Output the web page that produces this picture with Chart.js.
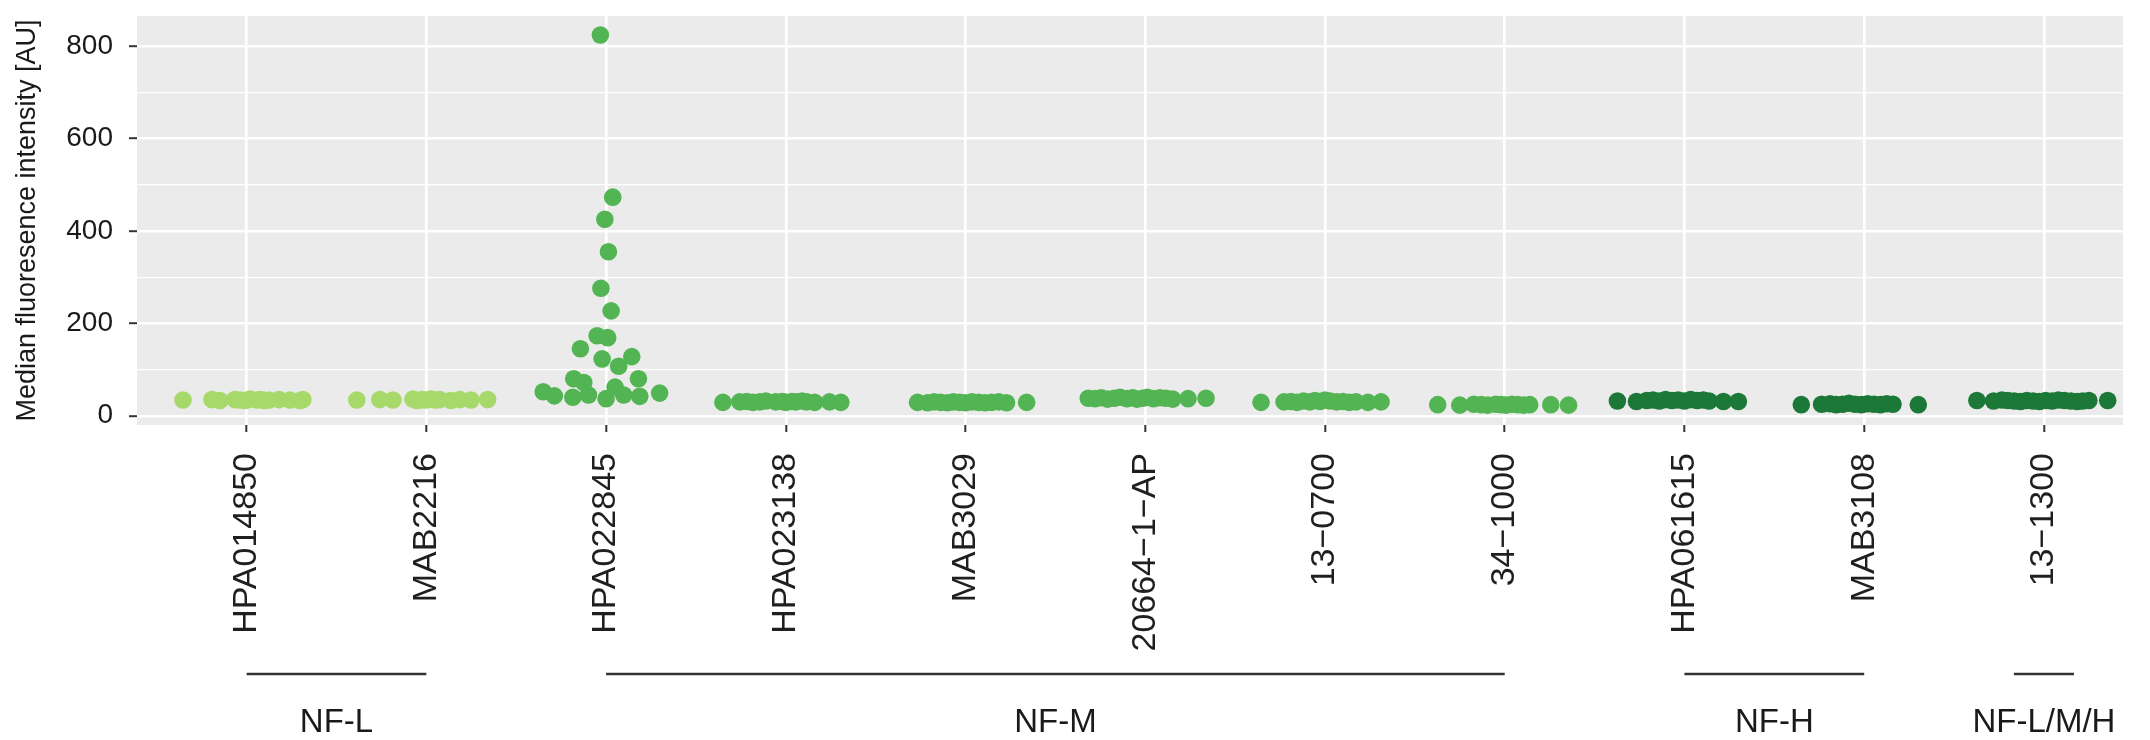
<!DOCTYPE html>
<html>
<head>
<meta charset="utf-8">
<script src="https://cdn.jsdelivr.net/npm/chart.js@4.4.1/dist/chart.umd.min.js"></script>
<style>
  html, body { margin: 0; padding: 0; background: #fff; }
  canvas { display: block; }
</style>
</head>
<body>
<canvas id="chart" width="2150" height="740"></canvas>
<script>
// Antibodies on the x axis, in plotting order
const categories = ['HPA014850', 'MAB2216', 'HPA022845', 'HPA023138', 'MAB3029',
  '20664\u22121\u2212AP', '13\u22120700', '34\u22121000', 'HPA061615', 'MAB3108', '13\u22121300'];

// Target protein of each antibody -> colour shade
const shadeOf = ['L', 'L', 'M', 'M', 'M', 'M', 'M', 'M', 'H', 'H', 'H'];
const SHADE_COLOR = { L: '#A6D96A', M: '#53B453', H: '#1B7837' };

// Median fluorescence intensity per sample, and the horizontal jitter (category units)
const mfiHPA014850 = [34, 35, 33, 35, 34, 33, 36, 34, 35, 33, 34, 35, 34, 33, 35];
const jitHPA014850 = [-0.354, -0.193, -0.149, -0.065, -0.037, -0.009, 0.018, 0.057, 0.08, 0.1, 0.124, 0.18, 0.241, 0.297, 0.313];

const mfiMAB2216 = [34, 35, 34, 36, 33, 35, 34, 36, 34, 35, 33, 35, 34, 35];
const jitMAB2216 = [-0.387, -0.259, -0.186, -0.075, -0.053, -0.025, -0.003, 0.025, 0.05, 0.075, 0.136, 0.186, 0.248, 0.341];

const mfiHPA022845 = [824, 473, 425, 355, 276, 227, 173, 169, 145, 123, 128, 107, 80, 72, 80, 62, 52, 43, 40, 45, 37, 45, 42, 49];
const jitHPA022845 = [-0.032, 0.037, -0.007, 0.013, -0.029, 0.028, -0.05, 0.009, -0.143, -0.022, 0.143, 0.07, -0.18, -0.124, 0.18, 0.05, -0.35, -0.288, -0.185, -0.098, 0, 0.098, 0.187, 0.298];

const mfiHPA023138 = [29, 30, 31, 29, 30, 32, 30, 31, 29, 31, 30, 32, 30, 29, 30, 29];
const jitHPA023138 = [-0.35, -0.256, -0.217, -0.184, -0.145, -0.111, -0.056, -0.02, 0, 0.033, 0.056, 0.09, 0.115, 0.161, 0.243, 0.306];

const mfiMAB3029 = [29, 28, 30, 29, 28, 30, 29, 28, 30, 29, 28, 29, 30, 28, 29];
const jitMAB3029 = [-0.267, -0.211, -0.175, -0.139, -0.1, -0.067, -0.033, 0, 0.036, 0.072, 0.108, 0.145, 0.185, 0.228, 0.34];

const mfi20664 = [38, 37, 39, 36, 38, 40, 37, 39, 36, 38, 40, 37, 39, 38, 36, 37, 38];
const jit20664 = [-0.317, -0.28, -0.245, -0.21, -0.173, -0.14, -0.102, -0.07, -0.046, -0.015, 0.011, 0.045, 0.082, 0.115, 0.153, 0.238, 0.338];

const mfi130700 = [29, 30, 31, 29, 32, 30, 33, 31, 34, 32, 30, 31, 29, 30, 29, 30];
const jit130700 = [-0.356, -0.228, -0.19, -0.156, -0.12, -0.084, -0.055, -0.028, 0, 0.028, 0.065, 0.1, 0.135, 0.173, 0.239, 0.312];

const mfi341000 = [24, 23, 25, 24, 23, 25, 24, 23, 25, 24, 23, 24, 24, 23];
const jit341000 = [-0.373, -0.25, -0.172, -0.13, -0.095, -0.05, -0.02, 0.006, 0.04, 0.072, 0.105, 0.139, 0.256, 0.355];

const mfiHPA061615 = [32, 31, 33, 34, 32, 35, 33, 34, 32, 35, 33, 34, 32, 31, 31];
const jitHPA061615 = [-0.373, -0.267, -0.21, -0.175, -0.14, -0.105, -0.07, -0.035, 0, 0.035, 0.07, 0.105, 0.137, 0.217, 0.3];

const mfiMAB3108 = [24, 25, 26, 24, 25, 27, 25, 24, 26, 25, 24, 26, 25, 24];
const jitMAB3108 = [-0.35, -0.237, -0.19, -0.156, -0.12, -0.085, -0.05, -0.015, 0.02, 0.055, 0.09, 0.125, 0.16, 0.301];

const mfi131300 = [33, 32, 34, 33, 32, 31, 33, 32, 31, 33, 32, 34, 33, 32, 31, 32, 33, 33];
const jit131300 = [-0.373, -0.28, -0.234, -0.2, -0.165, -0.13, -0.095, -0.06, -0.025, 0.01, 0.045, 0.08, 0.115, 0.15, 0.185, 0.215, 0.25, 0.355];

const mfiByCategory = [mfiHPA014850, mfiMAB2216, mfiHPA022845, mfiHPA023138, mfiMAB3029,
  mfi20664, mfi130700, mfi341000, mfiHPA061615, mfiMAB3108, mfi131300];
const jitterByCategory = [jitHPA014850, jitMAB2216, jitHPA022845, jitHPA023138, jitMAB3029,
  jit20664, jit130700, jit341000, jitHPA061615, jitMAB3108, jit131300];

// Y axis ticks
const yMajor = [0, 200, 400, 600, 800];
const yMinor = [100, 300, 500, 700];

// Protein groups drawn under the axis labels (from/to in category units)
const groupNames = ['NF-L', 'NF-M', 'NF-H', 'NF-L/M/H'];
const groupFrom = [0, 2, 8, 9.833];
const groupTo = [1, 7, 9, 10.167];

const FONT = 'Liberation Sans, Arial, Helvetica, sans-serif';

// ggplot-like grey panel behind everything
const panelBackground = {
  id: 'panelBackground',
  beforeDraw(chart) {
    const { ctx, chartArea: a } = chart;
    ctx.save();
    ctx.fillStyle = '#EBEBEB';
    ctx.fillRect(a.left, a.top, a.right - a.left, a.bottom - a.top);
    ctx.restore();
  }
};

// Bracket lines and protein names below the x labels
const groupLabels = {
  id: 'groupLabels',
  afterDraw(chart) {
    const { ctx, chartArea } = chart;
    const x = chart.scales.x;
    ctx.save();
    ctx.strokeStyle = '#333333';
    ctx.lineWidth = 2.4;
    ctx.fillStyle = '#1a1a1a';
    ctx.font = `33px ${FONT}`;
    ctx.textAlign = 'center';
    ctx.textBaseline = 'alphabetic';
    groupNames.forEach((name, g) => {
      const x1 = x.getPixelForValue(groupFrom[g]);
      const x2 = x.getPixelForValue(groupTo[g]);
      const lineY = chartArea.bottom + 249;
      ctx.beginPath();
      ctx.moveTo(x1, lineY);
      ctx.lineTo(x2, lineY);
      ctx.stroke();
      ctx.fillText(name, (x1 + x2) / 2, chartArea.bottom + 307);
    });
    ctx.restore();
  }
};

const datasets = categories.map((name, i) => ({
  label: name,
  data: mfiByCategory[i].map((v, k) => ({ x: i + jitterByCategory[i][k], y: v })),
  backgroundColor: SHADE_COLOR[shadeOf[i]],
  borderWidth: 0,
  pointRadius: 8.8,
  pointHoverRadius: 8.8,
}));

new Chart(document.getElementById('chart'), {
  type: 'scatter',
  data: { datasets },
  plugins: [panelBackground, groupLabels],
  options: {
    responsive: false,
    animation: false,
    devicePixelRatio: 1,
    layout: { padding: { left: 0, right: 27, top: 16, bottom: 0 } },
    plugins: { legend: { display: false }, tooltip: { enabled: false } },
    scales: {
      x: {
        type: 'linear',
        min: -0.61,
        max: 10.44,
        afterBuildTicks: s => { s.ticks = categories.map((_, i) => ({ value: i })); },
        afterFit: s => { s.height = 315; s.paddingLeft = 0; s.paddingRight = 0; },
        border: { display: false },
        grid: { color: '#FFFFFF', lineWidth: 2.6, tickColor: '#333333', tickLength: 7, tickWidth: 2 },
        ticks: {
          callback: v => categories[v],
          autoSkip: false,
          minRotation: 90,
          maxRotation: 90,
          padding: 21,
          color: '#1f1f1f',
          font: { family: FONT, size: 34 },
        },
      },
      y: {
        min: -20,
        max: 865,
        afterBuildTicks: s => { s.ticks = [...yMajor, ...yMinor].sort((a, b) => a - b).map(v => ({ value: v })); },
        afterFit: s => { s.width = 137; s.paddingTop = 0; s.paddingBottom = 0; },
        border: { display: false },
        grid: {
          color: '#FFFFFF',
          lineWidth: c => yMajor.includes(c.tick.value) ? 2.4 : 1.2,
          tickColor: c => yMajor.includes(c.tick.value) ? '#333333' : 'rgba(0,0,0,0)',
          tickLength: 8,
          tickWidth: 2,
        },
        ticks: {
          callback: v => yMajor.includes(v) ? String(v) : '',
          padding: 16,
          color: '#1a1a1a',
          font: { family: FONT, size: 28 },
        },
        title: {
          display: true,
          text: 'Median fluoresence intensity [AU]',
          color: '#1a1a1a',
          font: { family: FONT, size: 27 },
          padding: { top: 11, bottom: 0 },
        },
      },
    },
  },
});
</script>
</body>
</html>
